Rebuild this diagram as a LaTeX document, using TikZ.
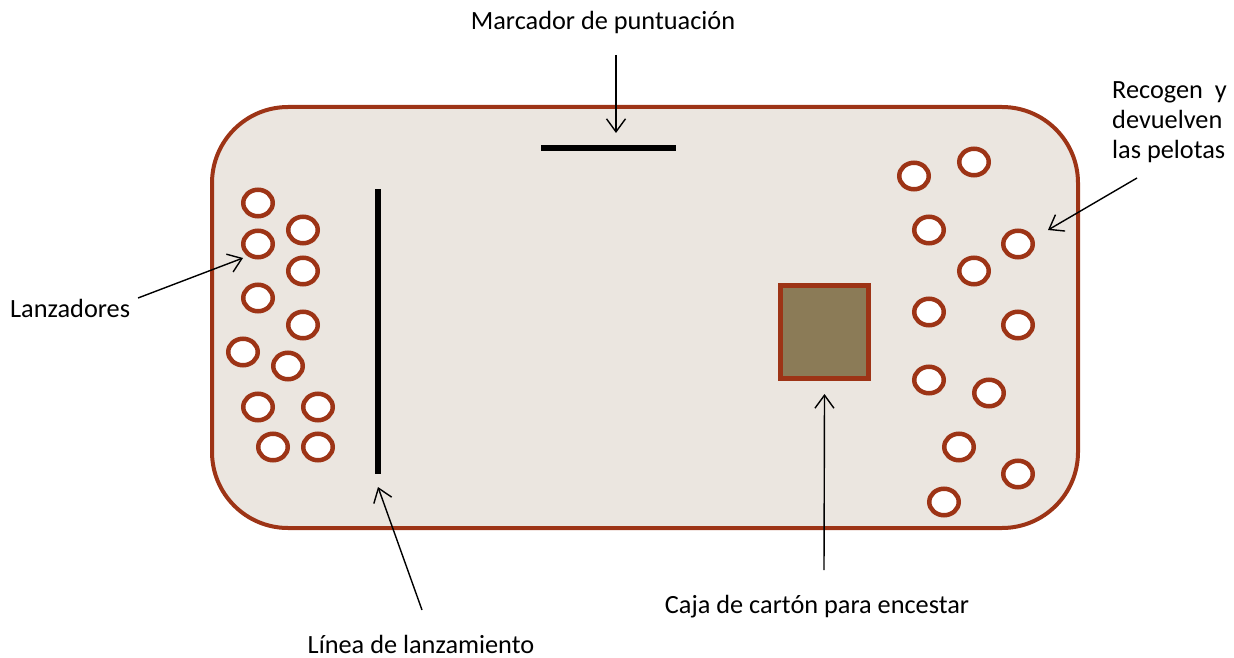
\documentclass[tikz,border=0pt]{standalone}
\usepackage{fontspec}
\setmainfont{Carlito}
\usetikzlibrary{arrows.meta,shapes.geometric}
\definecolor{cancha}{RGB}{235,230,224}
\definecolor{ladrillo}{RGB}{157,52,22}
\definecolor{carton}{RGB}{139,123,87}
\begin{document}
\begin{tikzpicture}[x=1pt,y=-1pt,
  pelota/.style={ellipse,draw=ladrillo,fill=white,line width=4.5pt,
    minimum width=29.5pt,minimum height=26.5pt,inner sep=0pt},
  rotulo/.style={font=\fontsize{26.3}{30}\selectfont,inner sep=0pt},
  flecha/.style={-{Straight Barb[length=13pt,width=19pt]},line width=1.4pt},
  barra/.style={line width=6.5pt}]
\useasboundingbox (0,0) rectangle (1234,658);

% campo
\draw[draw=ladrillo,fill=cancha,line width=4pt,rounded corners=76pt]
  (212,107) rectangle (1078,528);
\draw[barra] (541,148) -- (676,148);
\draw[barra] (378,189) -- (378,474);
\node[draw=ladrillo,fill=carton,line width=5pt,minimum width=88pt,
  minimum height=93pt,inner sep=0pt] (caja) at (824.5,332) {};

% lanzadores
\node[pelota] (l1) at (258,203) {};  \node[pelota] (l2) at (303,230) {};
\node[pelota] (l3) at (258,244) {};  \node[pelota] (l4) at (303,271) {};
\node[pelota] (l5) at (258,298) {};  \node[pelota] (l6) at (303,325) {};
\node[pelota] (l7) at (243,352) {};  \node[pelota] (l8) at (288,366) {};
\node[pelota] (l9) at (258,407) {};  \node[pelota] (l10) at (318,407) {};
\node[pelota] (l11) at (273,447) {}; \node[pelota] (l12) at (318,447) {};

% recogepelotas
\node[pelota] (r1) at (914,176) {};  \node[pelota] (r2) at (974,162) {};
\node[pelota] (r3) at (929,230) {};  \node[pelota] (r4) at (1018,244) {};
\node[pelota] (r5) at (974,271) {};  \node[pelota] (r6) at (929,312) {};
\node[pelota] (r7) at (1018,325) {}; \node[pelota] (r8) at (929,380) {};
\node[pelota] (r9) at (989,393) {};  \node[pelota] (r10) at (959,447) {};
\node[pelota] (r11) at (1018,474) {}; \node[pelota] (r12) at (944,502) {};

% rotulos
\node[rotulo] (marcador) at (603,22) {Marcador de puntuación};
\node[rotulo,anchor=west] (lanz) at (10,308) {Lanzadores};
\node[rotulo] (linea) at (421,644) {Línea de lanzamiento};
\node[rotulo] (cajaTxt) at (817,607) {Caja de cartón para encestar};
\node[rotulo,anchor=west,align=left] (recogen) at (1112,122)
  {Recogen \ y\\devuelven\\las pelotas};

\coordinate (marcTail) at (616,55);   \coordinate (marcTip) at (616,133);
\coordinate (lanzTail) at (138,298);  \coordinate (lanzTip) at (243,258);
\coordinate (lineaTail) at (422,610); \coordinate (lineaTip) at (378,487);
\coordinate (cajaTail) at (824,570);
\coordinate (recTail) at (1137,178);  \coordinate (recTip) at (1048,230);

\draw[flecha] (marcTail) -- (marcTip);
\draw[flecha] (lanzTail) -- (lanzTip);
\draw[flecha] (lineaTail) -- (lineaTip);
\draw[flecha] (cajaTail) -- ([yshift=-13pt]caja.south);
\draw[flecha] (recTail) -- (recTip);
\end{tikzpicture}
\end{document}
